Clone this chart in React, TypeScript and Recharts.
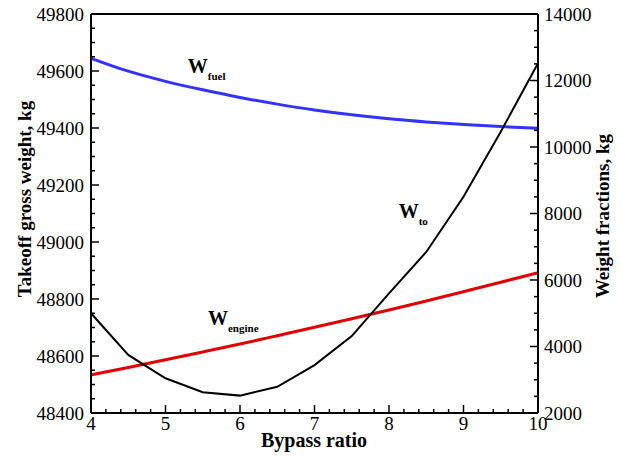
import { Line, LineChart, ReferenceDot, ReferenceLine, XAxis, YAxis } from "recharts";

// bypass ratio sweep
const bypassRatio = [4, 4.5, 5, 5.5, 6, 6.5, 7, 7.5, 8, 8.5, 9, 9.5, 10];
// takeoff gross weight, kg (left axis)
const takeoffWeight = [48750, 48604, 48522, 48473, 48461, 48492, 48568, 48670, 48820, 48965, 49159, 49387, 49627];
// weight fractions, kg (right axis)
const fuelWeight = [12668, 12280, 11975, 11720, 11490, 11290, 11115, 10970, 10850, 10755, 10680, 10615, 10562];
const engineWeight = [3143, 3370, 3600, 3835, 4075, 4325, 4577, 4836, 5098, 5368, 5648, 5931, 6220];

const xMajor = [4, 5, 6, 7, 8, 9, 10];
const leftMajor = [48400, 48600, 48800, 49000, 49200, 49400, 49600, 49800];
const rightMajor = [2000, 4000, 6000, 8000, 10000, 12000, 14000];

const serif = { fontFamily: "'Liberation Serif', 'Times New Roman', Times, serif" };

function steps(from: number, to: number, step: number) {
  const out: number[] = [];
  const n = Math.round((to - from) / step);
  for (let i = 0; i <= n; i++) out.push(Math.round((from + i * step) * 1000) / 1000);
  return out;
}

const data = bypassRatio.map((bpr, i) => ({
  bpr,
  wto: takeoffWeight[i],
  wfuel: fuelWeight[i],
  wengine: engineWeight[i],
}));

const isMajor = (list: number[], v: number) => list.some((m) => Math.abs(m - v) < 1e-6);

function LeftTick({ x, y, payload }: any) {
  const major = isMajor(leftMajor, payload.value);
  return (
    <g>
      <line x1={x} x2={x + (major ? 8 : 4)} y1={y} y2={y} stroke="#000" strokeWidth={1.5} />
      {major && (
        <text x={x - 7} y={y} dy="0.36em" textAnchor="end" style={serif} fontSize={19} fill="#000">
          {payload.value}
        </text>
      )}
    </g>
  );
}

function RightTick({ x, y, payload }: any) {
  const major = isMajor(rightMajor, payload.value);
  return (
    <g>
      <line x1={x} x2={x - (major ? 8 : 4)} y1={y} y2={y} stroke="#000" strokeWidth={1.5} />
      {major && (
        <text x={x + 6} y={y} dy="0.36em" textAnchor="start" style={serif} fontSize={19} fill="#000">
          {payload.value}
        </text>
      )}
    </g>
  );
}

function BottomTick({ x, y, payload }: any) {
  const major = isMajor(xMajor, payload.value);
  return (
    <g>
      <line x1={x} x2={x} y1={y} y2={y - (major ? 8 : 4)} stroke="#000" strokeWidth={1.5} />
      {major && (
        <text x={x} y={y + 17} textAnchor="middle" style={serif} fontSize={19} fill="#000">
          {payload.value}
        </text>
      )}
    </g>
  );
}

function SubLabel({ cx, cy, main, sub }: { cx: number; cy: number; main: string; sub: string }) {
  return (
    <text x={cx} y={cy} style={serif} fontWeight="bold" fontSize={20} fill="#000">
      {main}
      <tspan fontSize={11} dy={7}>
        {sub}
      </tspan>
    </text>
  );
}

export default function App() {
  return (
    <div style={{ position: "absolute", left: 0, top: 0, width: 622, height: 456, background: "#fff" }}>
      <LineChart width={622} height={456} data={data} margin={{ top: 14, right: 0, bottom: 0, left: 0 }}>
        <XAxis
          dataKey="bpr"
          type="number"
          domain={[4, 10]}
          ticks={steps(4, 10, 0.2)}
          interval={0}
          height={43}
          tickSize={0}
          tickMargin={0}
          tickLine={false}
          tick={<BottomTick />}
          axisLine={{ stroke: "#000", strokeWidth: 2 }}
        />
        <YAxis
          yAxisId="left"
          type="number"
          domain={[48400, 49800]}
          ticks={steps(48400, 49800, 50)}
          interval={0}
          width={91}
          tickSize={0}
          tickMargin={0}
          tickLine={false}
          tick={<LeftTick />}
          axisLine={{ stroke: "#000", strokeWidth: 2 }}
        />
        <YAxis
          yAxisId="right"
          orientation="right"
          type="number"
          domain={[2000, 14000]}
          ticks={steps(2000, 14000, 500)}
          interval={0}
          width={84}
          tickSize={0}
          tickMargin={0}
          tickLine={false}
          tick={<RightTick />}
          axisLine={{ stroke: "#000", strokeWidth: 2 }}
        />
        <ReferenceLine yAxisId="left" y={49800} stroke="#000" strokeWidth={2} />
        <Line
          yAxisId="right"
          dataKey="wfuel"
          type="monotone"
          stroke="#3333ff"
          strokeWidth={3}
          dot={false}
          isAnimationActive={false}
        />
        <Line
          yAxisId="right"
          dataKey="wengine"
          type="monotone"
          stroke="#e00000"
          strokeWidth={3}
          dot={false}
          isAnimationActive={false}
        />
        <Line
          yAxisId="left"
          dataKey="wto"
          type="linear"
          stroke="#000"
          strokeWidth={2}
          dot={false}
          isAnimationActive={false}
        />
        <ReferenceDot
          yAxisId="left"
          x={5.3}
          y={49593}
          r={0}
          shape={(p: any) => <SubLabel cx={p.cx} cy={p.cy} main="W" sub="fuel" />}
        />
        <ReferenceDot
          yAxisId="left"
          x={5.57}
          y={48709}
          r={0}
          shape={(p: any) => <SubLabel cx={p.cx} cy={p.cy} main="W" sub="engine" />}
        />
        <ReferenceDot
          yAxisId="left"
          x={8.13}
          y={49084}
          r={0}
          shape={(p: any) => <SubLabel cx={p.cx} cy={p.cy} main="W" sub="to" />}
        />
        <text x={314} y={447} textAnchor="middle" style={serif} fontWeight="bold" fontSize={20} fill="#000">
          Bypass ratio
        </text>
        <text
          x={31}
          y={199}
          transform="rotate(-90 31 199)"
          textAnchor="middle"
          style={serif}
          fontWeight="bold"
          fontSize={19}
          fill="#000"
        >
          Takeoff gross weight, kg
        </text>
        <text
          x={609}
          y={216}
          transform="rotate(-90 609 216)"
          textAnchor="middle"
          style={serif}
          fontWeight="bold"
          fontSize={19}
          fill="#000"
        >
          Weight fractions, kg
        </text>
      </LineChart>
    </div>
  );
}
